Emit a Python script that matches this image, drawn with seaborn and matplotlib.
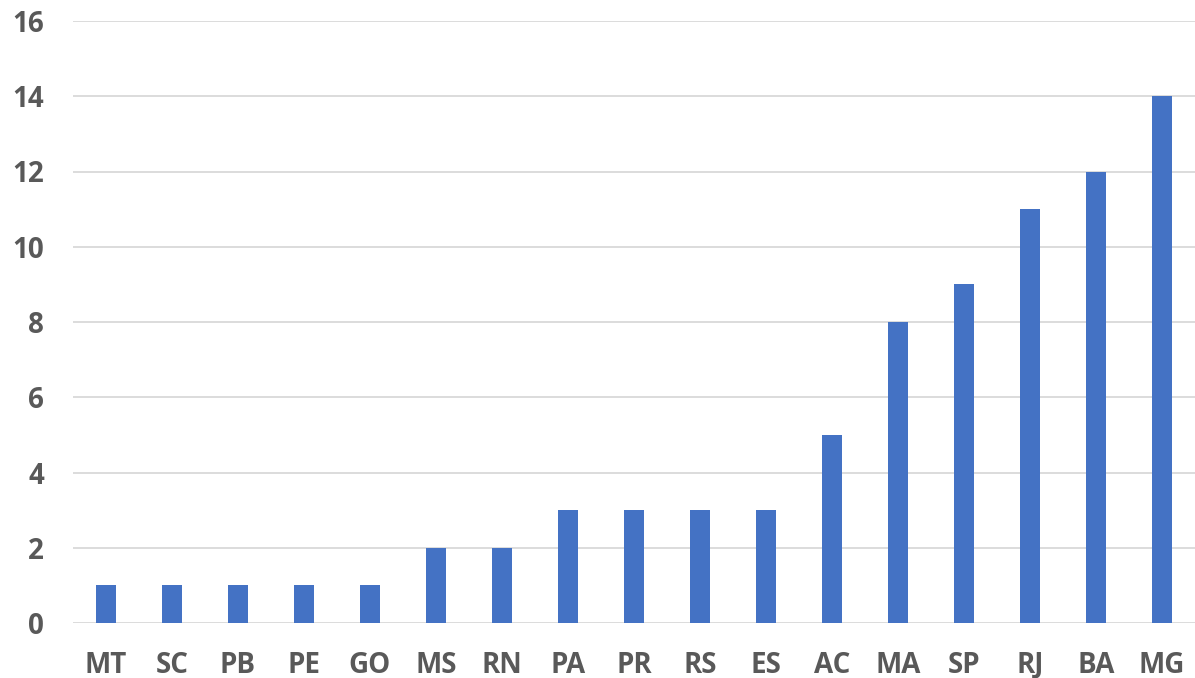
import matplotlib
matplotlib.use("Agg")
import matplotlib.pyplot as plt
import seaborn as sns
import pandas as pd

states = ["MT", "SC", "PB", "PE", "GO", "MS", "RN", "PA", "PR", "RS", "ES",
          "AC", "MA", "SP", "RJ", "BA", "MG"]
counts = [1, 1, 1, 1, 1, 2, 2, 3, 3, 3, 3, 5, 8, 9, 11, 12, 14]
yticks = [0, 2, 4, 6, 8, 10, 12, 14, 16]

sns.set_theme(style="white")
plt.rcParams['font.family'] = ['Open Sans', 'DejaVu Sans']
plt.rcParams['font.weight'] = 'bold'

df = pd.DataFrame({"state": states, "count": counts})

fig = plt.figure(figsize=(11.95, 6.78), dpi=100)
ax = fig.add_axes([73/1195, 55/678, (1195-73)/1195, (623-21)/678])
sns.barplot(data=df, x="state", y="count", order=states, color="#4472C4",
            width=0.30, saturation=1, linewidth=0, ax=ax, zorder=3)
ax.set_xlim(-0.5, 16.5)
ax.set_ylim(0, 16)
ax.set_yticks(yticks)
ax.set_yticklabels([str(t) for t in yticks], fontweight="bold")
ax.set_xticks(range(len(states)))
ax.set_xticklabels(states, fontweight="bold")
ax.grid(axis="y", color="#d9d9d9", linewidth=1.3, zorder=0)
ax.set_axisbelow(True)
for s in ax.spines.values():
    s.set_visible(False)
ax.set_xlabel("")
ax.set_ylabel("")
ax.tick_params(axis="y", length=0, pad=21, labelsize=20, labelcolor="#595959")
ax.tick_params(axis="x", length=0, pad=20, labelsize=20, labelcolor="#595959")
fig.savefig("out.png", dpi=100)
